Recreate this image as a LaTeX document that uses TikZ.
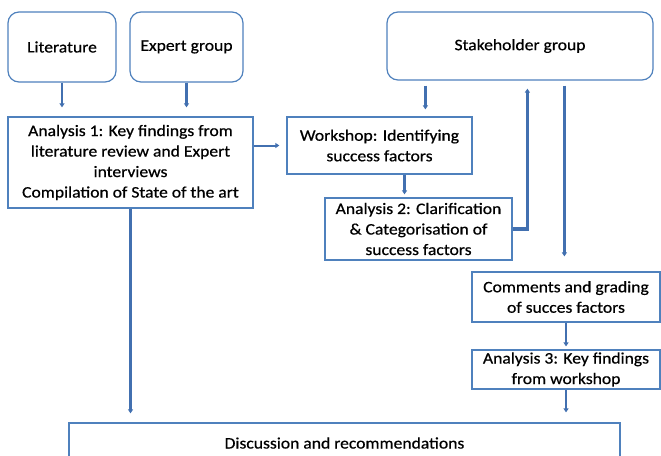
\documentclass[tikz,border=0pt]{standalone}
\usepackage{fontspec}
\setmainfont{Carlito}[FakeStretch=1.1,FakeBold=0.6]
\usetikzlibrary{arrows.meta}
\definecolor{boxblue}{RGB}{79,129,189}
\definecolor{linkblue}{RGB}{66,112,176}
\begin{document}
\begin{tikzpicture}[x=1pt,y=-1pt,font=\fontsize{16}{20.5}\selectfont,
  box/.style={draw=boxblue,line width=1.2pt,fill=white,align=center,inner sep=0pt},
  rbox/.style={box,rounded corners=11pt},
  arr/.style={-{Triangle[length=4pt,width=5pt]},linkblue,line width=2.6pt}]
\useasboundingbox (0,0) rectangle (661,455);
\node[rbox,minimum width=108pt,minimum height=70pt] (lit) at (62,47) {Literature};
\node[rbox,minimum width=113pt,minimum height=70pt] (exp) at (186.5,47) {Expert group};
\node[rbox,minimum width=266pt,minimum height=68pt] (stake) at (520,46) {Stakeholder group};
\node[box,minimum width=245pt,minimum height=91pt] (ana1) at (130.5,162.5) {Analysis 1: Key findings from\\literature review and Expert\\interviews\\Compilation of State of the art};
\node[box,minimum width=185pt,minimum height=57pt] (work) at (379.5,145.5) {Workshop: Identifying\\success factors};
\node[box,minimum width=187pt,minimum height=62pt] (ana2) at (418.5,229) {Analysis 2: Clarification\\\& Categorisation of\\success factors};
\node[box,minimum width=188pt,minimum height=50pt] (comm) at (566,297) {Comments and grading\\of succes factors};
\node[box,minimum width=188pt,minimum height=39pt] (ana3) at (566,369.5) {Analysis 3: Key findings\\from workshop};
\node[box,minimum width=551pt,minimum height=40pt] (disc) at (344.5,443) {Discussion and recommendations};
\draw[arr,shorten >=9pt] (lit.south) -- (lit.south |- ana1.north);
\draw[arr,shorten >=9pt] (exp.south) -- (exp.south |- ana1.north);
\draw[arr,line width=2pt,shorten >=7pt] (work.west -| ana1.east) -- (work.west);
\draw[arr,shorten <=5pt,shorten >=7pt] ([xshift=39pt]stake.south west) -- ([xshift=39pt]stake.south west |- work.north);
\draw[arr,shorten >=3pt] ([xshift=25pt]work.south) -- ([xshift=25pt]work.south |- ana2.north);
\draw[arr,line width=3.6pt,shorten >=8pt] (ana2.east) -| ([xshift=141pt]stake.south west);
\draw[arr,shorten <=5pt,shorten >=15pt] ([xshift=178pt]stake.south west) -- ([xshift=178pt]stake.south west |- comm.north);
\draw[arr,shorten >=3pt] (comm.south) -- (ana3.north);
\draw[arr,shorten >=10pt] (ana3.south) -- (ana3.south |- disc.north);
\draw[arr,shorten >=9pt] (ana1.south) -- (ana1.south |- disc.north);
\end{tikzpicture}
\end{document}
